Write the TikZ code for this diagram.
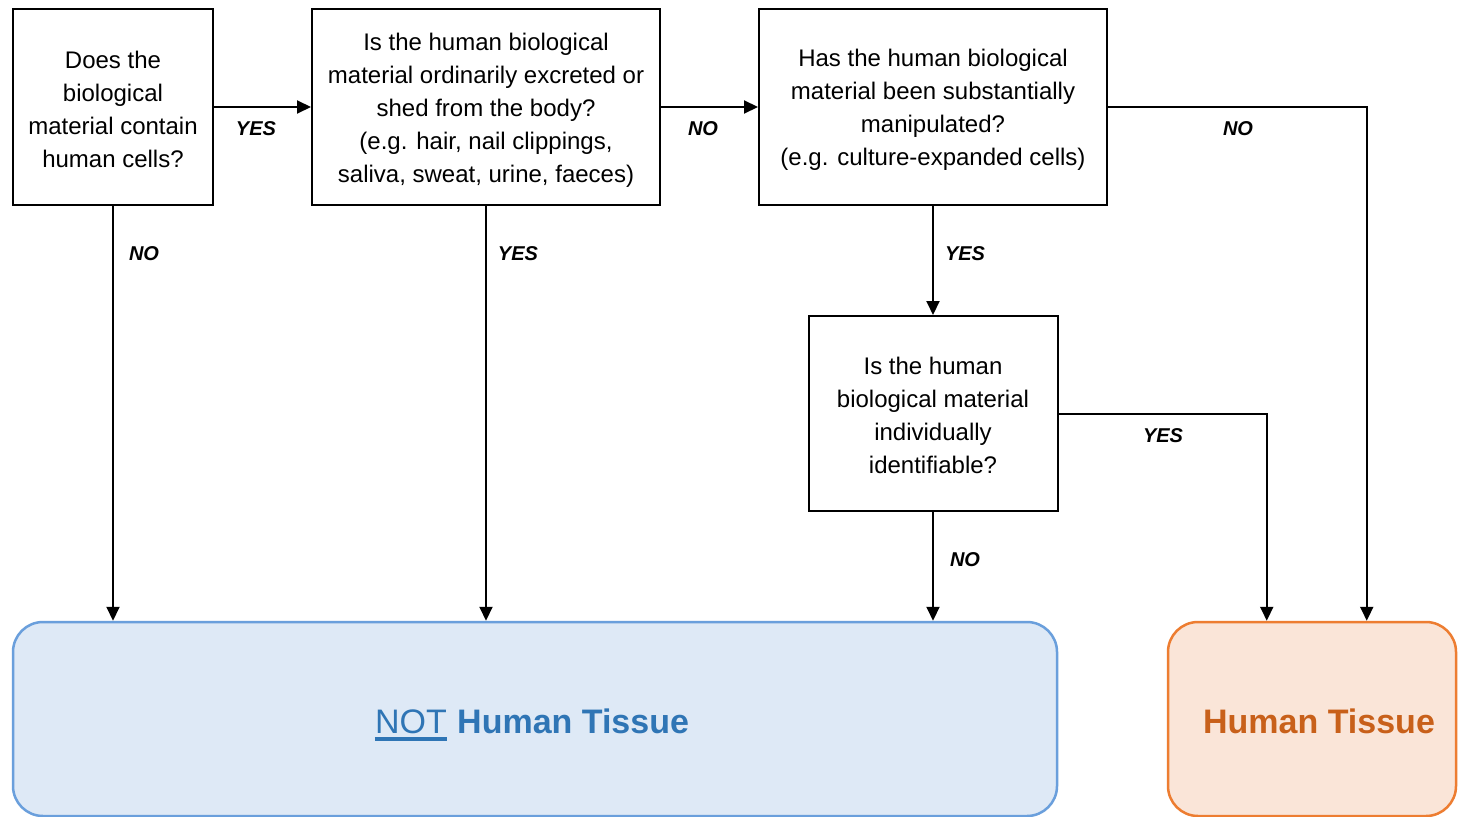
\documentclass[tikz,border=0pt]{standalone}
\usepackage{fontspec}
\setmainfont{Liberation Sans}
\usetikzlibrary{arrows.meta}
\definecolor{nfill}{HTML}{DEE9F6}
\definecolor{nline}{HTML}{6A9FDC}
\definecolor{ntext}{HTML}{2F75B5}
\definecolor{hfill}{HTML}{FAE5D8}
\definecolor{hline}{HTML}{ED7D31}
\definecolor{htext}{HTML}{C8601A}
\tikzset{
  qbox/.style={draw=black, line width=2pt, fill=white, inner sep=0pt},
  qtext/.style={align=center, inner sep=0pt, font=\fontsize{24}{33}\selectfont},
  conn/.style={line width=2pt, -{Triangle[length=14pt,width=13pt]}},
  lbl/.style={font=\fontsize{20}{24}\selectfont\bfseries\itshape},
  endbox/.style={rounded corners=30pt, line width=2.5pt, inner sep=0pt}
}
\begin{document}
\begin{tikzpicture}[x=1pt,y=-1pt]
\useasboundingbox (0,0) rectangle (1458,816);
\fill[white] (0,0) rectangle (1458,816);
% end boxes
\node[endbox, draw=nline, fill=nfill, minimum width=1044pt, minimum height=194pt] (nh) at (535,719) {};
\node[endbox, draw=hline, fill=hfill, minimum width=288pt, minimum height=194pt] (ht) at (1312,719) {};
\node[font=\fontsize{34}{40}\selectfont\bfseries, text=htext] (httext) at (1319,721) {Human Tissue};
\node[font=\fontsize{34}{40}\selectfont, text=ntext, anchor=base east, inner sep=0pt] (nott) at (447,733) {NOT};
\node[font=\fontsize{34}{40}\selectfont\bfseries, text=ntext, anchor=base west, inner sep=0pt] (nhtext) at (457,733) {Human Tissue};
\draw[ntext, line width=3.5pt] ([yshift=-6pt]nott.base west) -- ([yshift=-6pt]nott.base east);
% question boxes
\node[qbox, minimum width=200pt, minimum height=196pt] (b1) at (113,107) {};
\node[qbox, minimum width=348pt, minimum height=196pt] (b2) at (486,107) {};
\node[qbox, minimum width=348pt, minimum height=196pt] (b3) at (933,107) {};
\node[qbox, minimum width=249pt, minimum height=195pt] (b4) at (933,413.5) {};
\node[qtext] (t1) at (113,109) {Does the\\biological\\material contain\\human cells?};
\node[qtext] (t2) at (486,110) {Is the human biological\\material ordinarily excreted or\\shed from the body?\\(e.g. hair, nail clippings,\\saliva, sweat, urine, faeces)};
\node[qtext] (t3) at (933,110) {Has the human biological\\material been substantially\\manipulated?\\(e.g. culture-expanded cells)};
\node[qtext] (t4) at (933,415) {Is the human\\biological material\\individually\\identifiable?};
\coordinate (hin1) at ([xshift=100pt]ht.north west);
\coordinate (hin2) at ([xshift=200pt]ht.north west);
% connectors
\draw[conn] (b1.east) -- (b2.west);
\draw[conn] (b2.east) -- (b3.west);
\draw[conn] (b3.east) -| (hin2);
\draw[conn] (b1.south) -- (b1.south |- nh.north);
\draw[conn] (b2.south) -- (b2.south |- nh.north);
\draw[conn] (b3.south) -- (b4.north);
\draw[conn] (b4.south) -- (b4.south |- nh.north);
\draw[conn] (b4.east) -| (hin1);
% labels
\node[lbl] (l1) at (256,129) {YES};
\node[lbl] (l2) at (703,129) {NO};
\node[lbl] (l3) at (1238,129) {NO};
\node[lbl] (l4) at (144,254) {NO};
\node[lbl] (l5) at (518,254) {YES};
\node[lbl] (l6) at (965,254) {YES};
\node[lbl] (l7) at (1163,436) {YES};
\node[lbl] (l8) at (965,560) {NO};
\end{tikzpicture}
\end{document}
